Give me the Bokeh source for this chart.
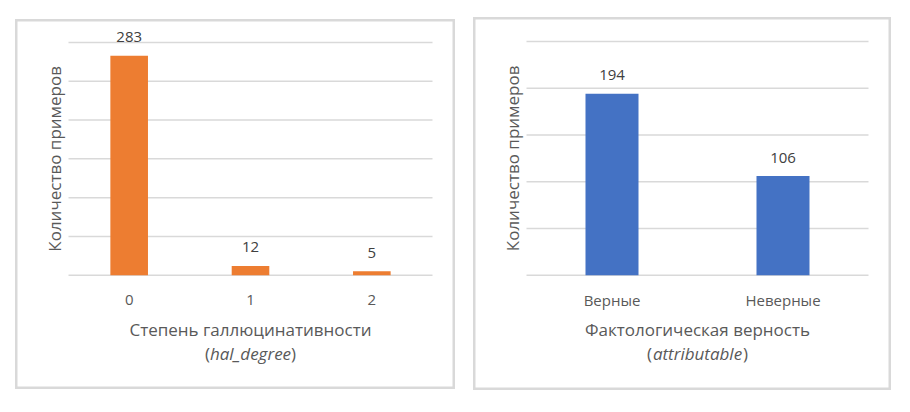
import math
from bokeh.plotting import figure
from bokeh.models import Range1d, ColumnDataSource
from bokeh.layouts import row
from bokeh.embed import file_html
from bokeh.resources import INLINE
from bokeh.core.properties import value

# ---- data ----
hal_categories = ["0", "1", "2"]
hal_counts = [283, 12, 5]
hal_ticks = [0, 50, 100, 150, 200, 250, 300]

attr_categories = ["Верные", "Неверные"]
attr_counts = [194, 106]
attr_ticks = [0, 50, 100, 150, 200, 250]

y_title = "Количество примеров"
hal_title = "Степень галлюцинативности"
hal_field = "hal_degree"
attr_title = "Фактологическая верность"
attr_field = "attributable"

# ---- style ----
FONT = "Open Sans"
GRID = "#d9d9d9"
TXT = "#595959"
LBL = "#404040"
ORANGE = "#ed7d31"
BLUE = "#4472c4"
SMALL = "15px"
BIG = "17px"


def make_panel(cats, counts, ticks, color, title, field, field_w,
               W, H, area_left, area_right, base_y, top_y, margin):
    n = len(cats)
    ppx = (area_right - area_left) / n          # pixels per category
    ppu = (base_y - top_y) / ticks[-1]          # pixels per count unit

    p = figure(x_range=Range1d(-area_left / ppx, n + (W - area_right) / ppx),
               y_range=Range1d(-(H - base_y) / ppu, base_y / ppu),
               width=W, height=H, output_backend="svg",
               toolbar_location=None, tools="",
               x_axis_location=None, y_axis_location=None,
               min_border=0)
    p.margin = margin
    p.grid.visible = False
    p.outline_line_color = GRID
    p.outline_line_width = 4
    p.background_fill_color = "white"
    p.border_fill_color = "white"

    cx = [i + 0.5 for i in range(n)]

    # gridlines from the tick values
    gsrc = ColumnDataSource(dict(y=ticks, x0=[0] * len(ticks), x1=[n] * len(ticks)))
    p.segment(x0="x0", x1="x1", y0="y", y1="y", source=gsrc,
              line_color=GRID, line_width=1.5)

    src = ColumnDataSource(dict(x=cx, cat=cats, count=counts,
                                label=[str(c) for c in counts],
                                ly=[c + 18.5 / ppu for c in counts]))
    p.vbar(x="x", top="count", bottom=0, width=0.31, source=src,
           fill_color=color, line_color=None)

    # value labels
    p.text(x="x", y="ly", text="label", source=src, text_align="center",
           text_baseline="middle", text_font=value(FONT), text_font_size=SMALL,
           text_color=LBL)
    # category labels
    tsrc = ColumnDataSource(dict(x=cx, y=[-24.3 / ppu] * n, t=cats))
    p.text(x="x", y="y", text="t", source=tsrc, text_align="center",
           text_baseline="middle", text_font=value(FONT), text_font_size=SMALL,
           text_color=TXT)

    common = dict(text_font=value(FONT), text_color=TXT, text_font_size=BIG,
                  text_baseline="middle")
    mid = n / 2.0
    # y-axis title
    p.text(x=[-14 / ppx], y=[ticks[-1] / 2.0], text=[y_title], angle=math.pi / 2,
           text_align="center", **common)
    # x-axis title, line 1
    p.text(x=[mid], y=[-54 / ppu], text=[title], text_align="center", **common)
    # x-axis title, line 2: (italic)
    y2 = -78 / ppu
    p.text(x=[mid], y=[y2], text=[field], text_align="center",
           text_font_style="italic", **common)
    p.text(x=[mid - (field_w / 2.0 + 0.5) / ppx], y=[y2], text=["("],
           text_align="right", **common)
    p.text(x=[mid + (field_w / 2.0 + 0.5) / ppx], y=[y2], text=[")"],
           text_align="left", **common)
    return p


p1 = make_panel(hal_categories, hal_counts, hal_ticks, ORANGE, hal_title, hal_field, 80,
                W=440, H=370, area_left=53, area_right=417, base_y=255.7, top_y=23,
                margin=(19, 0, 0, 15))
p2 = make_panel(attr_categories, attr_counts, attr_ticks, BLUE, attr_title, attr_field, 90,
                W=418, H=373, area_left=53, area_right=395, base_y=257.7, top_y=24,
                margin=(17, 0, 0, 18))

layout = row(p1, p2)
open("out.html", "w").write(file_html(layout, INLINE))
